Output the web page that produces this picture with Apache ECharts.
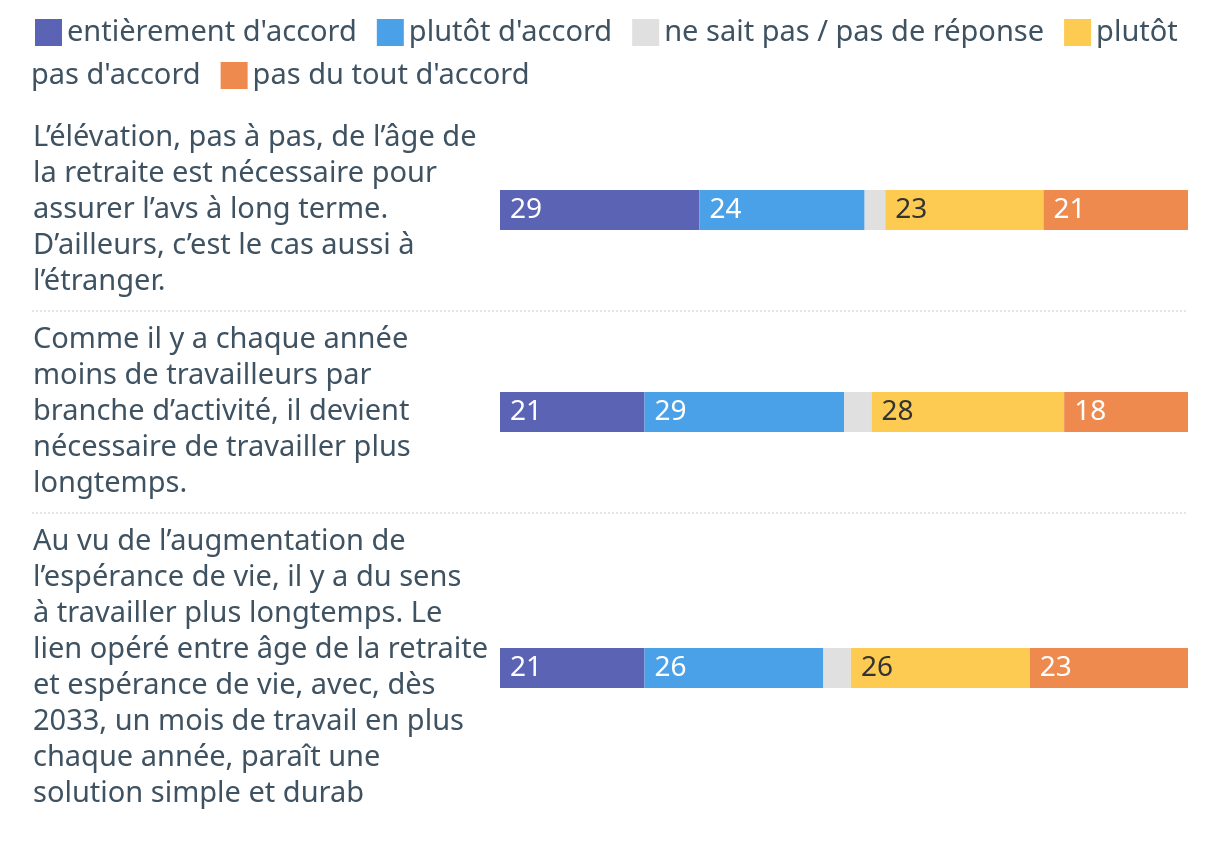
<!DOCTYPE html>
<html>
<head>
<meta charset="utf-8">
<script src="https://cdn.jsdelivr.net/npm/echarts@6/dist/echarts.min.js"></script>
<style>
html,body{margin:0;padding:0;background:#fff;}
#chart{width:1220px;height:864px;}
</style>
</head>
<body>
<div id="chart"></div>
<script>
const categories = [
  "L’élévation, pas à pas, de l’âge de\nla retraite est nécessaire pour\nassurer l’avs à long terme.\nD’ailleurs, c’est le cas aussi à\nl’étranger.",
  "Comme il y a chaque année\nmoins de travailleurs par\nbranche d’activité, il devient\nnécessaire de travailler plus\nlongtemps.",
  "Au vu de l’augmentation de\nl’espérance de vie, il y a du sens\nà travailler plus longtemps. Le\nlien opéré entre âge de la retraite\net espérance de vie, avec, dès\n2033, un mois de travail en plus\nchaque année, paraît une\nsolution simple et durab"
];
const seriesNames = ["entièrement d'accord", "plutôt d'accord", "ne sait pas / pas de réponse", "plutôt pas d'accord", "pas du tout d'accord"];
const entierement = [29, 21, 21];
const plutot = [24, 29, 26];
const nsp = [3, 4, 4];
const plutotPas = [23, 28, 26];
const pasDuTout = [21, 18, 23];

const values = [entierement, plutot, nsp, plutotPas, pasDuTout];
const colors = ['#5b63b4', '#4ba1e8', '#e0e0e0', '#fdcb52', '#ee8a4e'];
const labelColors = ['#ffffff', '#ffffff', '#333333', '#333333', '#ffffff'];
const textColor = '#3e5262';
const FONT = '"Noto Sans", "Open Sans", sans-serif';

const gridDefs = [
  {top: 109, height: 202},
  {top: 311, height: 202},
  {top: 513, height: 310}
];

const grids = gridDefs.map(g => ({left: 500, right: 32, top: g.top, height: g.height, containLabel: false}));
const xAxes = gridDefs.map((g, i) => ({
  type: 'value', gridIndex: i, min: 0, max: 100, show: false
}));
const yAxes = gridDefs.map((g, i) => ({
  type: 'category', gridIndex: i, data: [categories[i]],
  axisLine: {show: false}, axisTick: {show: false}, splitLine: {show: false},
  axisLabel: {
    align: 'left', margin: 467, fontSize: 29, lineHeight: 36,
    color: textColor, fontFamily: FONT
  }
}));

const series = [];
gridDefs.forEach((g, i) => {
  seriesNames.forEach((name, k) => {
    series.push({
      type: 'bar', name: name, xAxisIndex: i, yAxisIndex: i, stack: 'row' + i,
      barWidth: 40,
      itemStyle: {color: colors[k]},
      label: {
        show: k !== 2, position: 'insideLeft', distance: 10,
        color: labelColors[k], fontSize: 28, fontFamily: FONT
      },
      emphasis: {disabled: true},
      data: [values[k][i]]
    });
  });
});

const legendText = {color: textColor, fontSize: 29, fontFamily: FONT};
const chart = echarts.init(document.getElementById('chart'));
chart.setOption({
  animation: false,
  textStyle: {fontFamily: FONT},
  legend: [
    {
      left: 30, top: 13, width: 1200, itemWidth: 27, itemHeight: 27, itemGap: 20, icon: 'rect',
      data: seriesNames.slice(0, 4),
      textStyle: legendText,
      formatter: n => n === "plutôt pas d'accord" ? 'plutôt' : n
    },
    {
      left: -6, top: 56, width: 1200, itemWidth: 27, itemHeight: 27, itemGap: 20, icon: 'rect',
      data: [{name: "plutôt pas d'accord", icon: 'none'}, "pas du tout d'accord"],
      textStyle: legendText,
      formatter: n => n === "plutôt pas d'accord" ? "pas d'accord" : n
    }
  ],
  grid: grids,
  xAxis: xAxes,
  yAxis: yAxes,
  series: series,
  graphic: [311, 513].map(y => ({
    type: 'line', shape: {x1: 32, y1: y, x2: 1188, y2: y},
    style: {stroke: '#cccccc', lineWidth: 1, lineDash: [2, 2]}, silent: true
  }))
});
</script>
</body>
</html>
